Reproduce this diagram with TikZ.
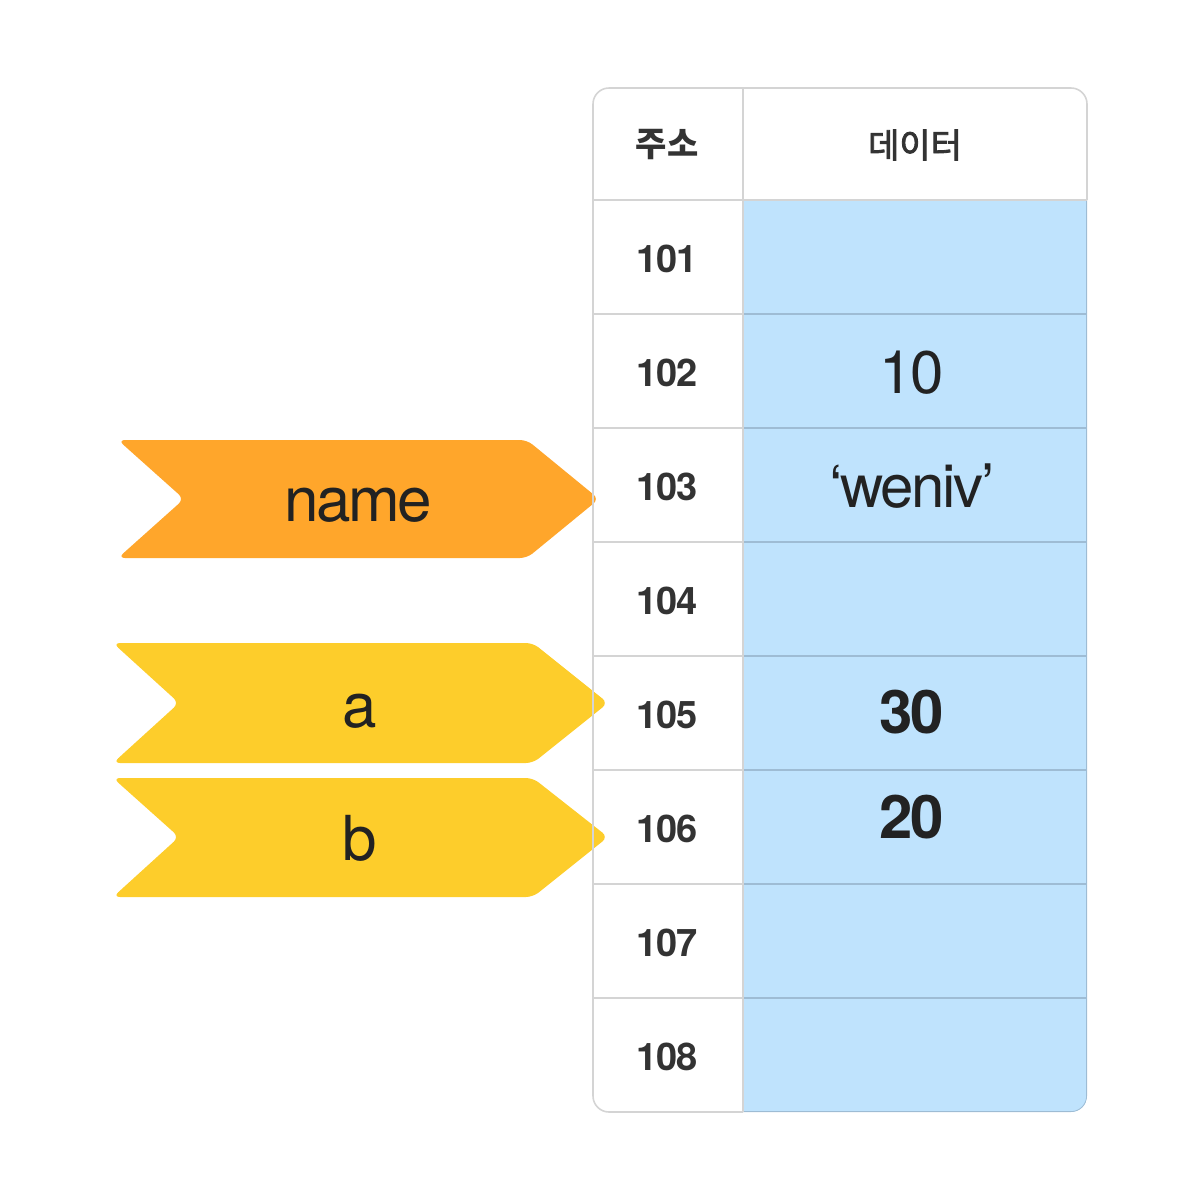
\documentclass[tikz,border=0pt]{standalone}
\usepackage{fontspec}
\setmainfont{TeX Gyre Heros}[LetterSpace=-4]
\newfontfamily\krfont{Noto Sans CJK KR}
\newfontfamily\krmedium{Noto Sans CJK KR}[FakeBold=2.5]
\usepackage{tikz}
\usetikzlibrary{positioning, calc}
\usepackage{xcolor}

\definecolor{datablue}{RGB}{191,227,253}
\definecolor{bluegray}{RGB}{158,188,212}
\definecolor{gridgray}{RGB}{212,212,212}
\definecolor{nameorange}{RGB}{255,166,43}
\definecolor{varyellow}{RGB}{253,205,43}
\definecolor{inkdark}{RGB}{34,34,34}
\definecolor{inkgray}{RGB}{51,51,51}

\tikzset{
  tagshape/.style={rounded corners=3.5pt},
  tagtext/.style={anchor=base, inner sep=0pt, text=inkdark, font=\fontsize{31}{36}\selectfont},
  addrtext/.style={anchor=base, inner sep=0pt, text=inkgray, font=\fontsize{19}{22}\selectfont\bfseries},
  datatext/.style={anchor=base, inner sep=0pt, text=inkdark, font=\fontsize{30}{34}\selectfont},
  headtext/.style={inner sep=0pt, text=inkgray, font=\fontsize{17}{20}\selectfont\krmedium},
}

\begin{document}
\begin{tikzpicture}[x=0.5pt, y=-0.5pt]
      \useasboundingbox (0,0) rectangle (1200,1200);

      % variable tags
      \fill[tagshape, nameorange] (118,440) -- (527,440) -- (599,499) -- (527,558) -- (118,558) -- (184,499) -- cycle;
      \fill[tagshape, varyellow] (113,643) -- (533,643) -- (608,703) -- (533,763) -- (113,763) -- (179,703) -- cycle;
      \fill[tagshape, varyellow] (113,778) -- (533,778) -- (608,837) -- (533,897) -- (113,897) -- (179,837) -- cycle;

      \node[tagtext] (name) at (358,521) {name};
      \node[tagtext] (a) at (360,727) {a};
      \node[tagtext] (b) at (360,860) {b};

      % data column
      \begin{scope}
        \clip[rounded corners=8pt] (593,88) rectangle (1087,1112);
        \fill[datablue] (743,200) rectangle (1087,1112);
        \begin{scope}
          \clip (743,200) rectangle (1100,1120);
          \draw[bluegray, line width=0.8pt, rounded corners=8pt] (593,88) rectangle (1087,1112);
        \end{scope}
      \end{scope}

      % grid
      \foreach \i in {1,...,7} {
        \draw[gridgray, line width=0.75pt] (593,{200+114*\i}) -- (743,{200+114*\i});
        \draw[bluegray, line width=0.75pt] (743,{200+114*\i}) -- (1087,{200+114*\i});
      }
      \draw[gridgray, line width=0.75pt] (593,200) -- (1087,200);
      \draw[gridgray, line width=0.75pt] (743,88) -- (743,1112);
      \draw[gridgray, line width=0.8pt, rounded corners=8pt] (743,1112) -- (593,1112) -- (593,88) -- (1087,88) -- (1087,200);

      % header
      \node[headtext, font=\fontsize{17}{20}\selectfont\krfont\bfseries] (addrhead) at (667,145) {주소};
      \node[headtext] (datahead) at (915,145) {데이터};

      % addresses
      \foreach \n [count=\i from 0] in {101,102,103,104,105,106,107,108}
        \node[addrtext] (addr\n) at (667,{272+114*\i}) {\n};

      % stored values
      \node[datatext] (val102) at (912,393) {10};
      \node[datatext] (val103) at (912,507) {‘weniv’};
      \node[datatext, font=\fontsize{30}{34}\selectfont\bfseries] (val105) at (912,733) {30};
      \node[datatext, font=\fontsize{30}{34}\selectfont\bfseries] (val106) at (912,838) {20};

    \end{tikzpicture}
\end{document}
